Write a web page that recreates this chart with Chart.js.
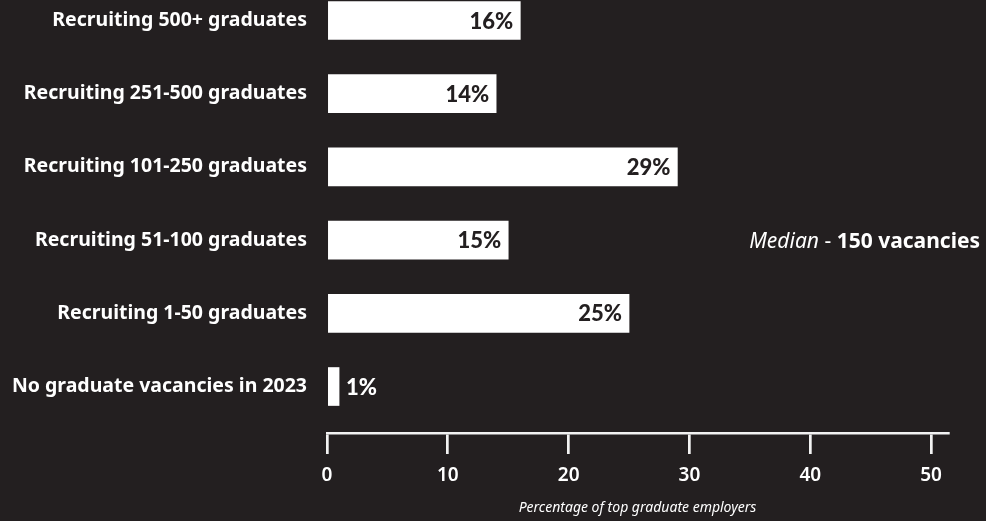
<!DOCTYPE html>
<html>
<head>
<meta charset="utf-8">
<script src="https://cdn.jsdelivr.net/npm/chart.js"></script>
<style>
    html, body { margin: 0; padding: 0; background: #231f20; }
    canvas { display: block; }
</style>
</head>
<body>
<canvas id="chart" width="986" height="521"></canvas>
<script>
const categories = [
    'Recruiting 500+ graduates',
    'Recruiting 251-500 graduates',
    'Recruiting 101-250 graduates',
    'Recruiting 51-100 graduates',
    'Recruiting 1-50 graduates',
    'No graduate vacancies in 2023'
];
const shares = [16, 14, 29, 15, 25, 1];
const xTicks = [0, 10, 20, 30, 40, 50];
const axisTitle = 'Percentage of top graduate employers';
const medianText = ['Median', ' - ', '150 vacancies'];
const medianRow = 3;

const bg = '#231f20';
const white = '#ffffff';
const labelFont = '"Noto Sans", sans-serif';

// Balkenwerte am Balkenende
const valueLabels = {
    id: 'valueLabels',
    afterDatasetsDraw(chart) {
        const ctx = chart.ctx;
        const meta = chart.getDatasetMeta(0);
        ctx.save();
        ctx.font = '900 22px Lato, sans-serif';
        ctx.textBaseline = 'middle';
        meta.data.forEach((bar, i) => {
            const text = shares[i] + '%';
            const w = ctx.measureText(text).width;
            if (bar.x - bar.base > w + 14) {
                ctx.fillStyle = bg;
                ctx.textAlign = 'right';
                ctx.fillText(text, bar.x - 7, bar.y + 1);
            } else {
                ctx.fillStyle = white;
                ctx.textAlign = 'left';
                ctx.fillText(text, bar.x + 7, bar.y + 1);
            }
        });
        ctx.restore();
    }
};

// Median-Hinweis rechts
const medianNote = {
    id: 'medianNote',
    afterDraw(chart) {
        const ctx = chart.ctx;
        const y = chart.scales.y.getPixelForValue(medianRow);
        const fonts = ['italic 21px ' + labelFont, '21px ' + labelFont, 'bold 21px ' + labelFont];
        ctx.save();
        ctx.fillStyle = white;
        ctx.textBaseline = 'middle';
        ctx.textAlign = 'left';
        let widths = medianText.map((t, i) => { ctx.font = fonts[i]; return ctx.measureText(t).width; });
        let x = 980 - widths.reduce((a, b) => a + b, 0);
        medianText.forEach((t, i) => {
            ctx.font = fonts[i];
            ctx.fillText(t, x, y + 2);
            x += widths[i];
        });
        ctx.restore();
    }
};

new Chart(document.getElementById('chart'), {
    type: 'bar',
    data: {
        datasets: [{
            data: shares.map((v, i) => ({ x: v, y: i })),
            backgroundColor: white,
            borderWidth: 0,
            barThickness: 38
        }]
    },
    options: {
        indexAxis: 'y',
        responsive: false,
        animation: false,
        layout: { padding: { top: 0, right: 38, bottom: 0, left: 0 } },
        plugins: {
            legend: { display: false },
            tooltip: { enabled: false }
        },
        scales: {
            x: {
                type: 'linear',
                min: 0,
                max: 51.4,
                afterFit(scale) { scale.height = 88; },
                border: { display: true, color: '#f2f2f2', width: 2.5 },
                grid: {
                    drawOnChartArea: false,
                    drawTicks: true,
                    tickLength: 21,
                    color: '#f2f2f2',
                    lineWidth: 2.7
                },
                ticks: {
                    stepSize: 10,
                    includeBounds: false,
                    padding: 10,
                    color: white,
                    font: { family: labelFont, weight: 600, size: 19 },
                    callback: v => xTicks.includes(v) ? v : ''
                },
                title: {
                    display: true,
                    text: axisTitle,
                    color: white,
                    padding: { top: 4, bottom: 5 },
                    font: { family: labelFont, style: 'italic', size: 14 }
                }
            },
            y: {
                type: 'linear',
                reverse: true,
                offset: false,
                min: -0.28,
                max: 5.635,
                // feste Breite, kein Extra-Rand oben/unten durch die Labels
                afterFit(scale) {
                    scale.width = 327;
                    scale.paddingTop = 0;
                    scale.paddingBottom = 0;
                },
                border: { display: false },
                grid: { display: false, drawTicks: false, offset: false },
                ticks: {
                    stepSize: 1,
                    includeBounds: false,
                    autoSkip: false,
                    padding: 20,
                    color: white,
                    font: { family: labelFont, weight: 'bold', size: 19.5 },
                    callback: v => categories[v] ?? ''
                }
            }
        }
    },
    plugins: [valueLabels, medianNote]
});
</script>
</body>
</html>
